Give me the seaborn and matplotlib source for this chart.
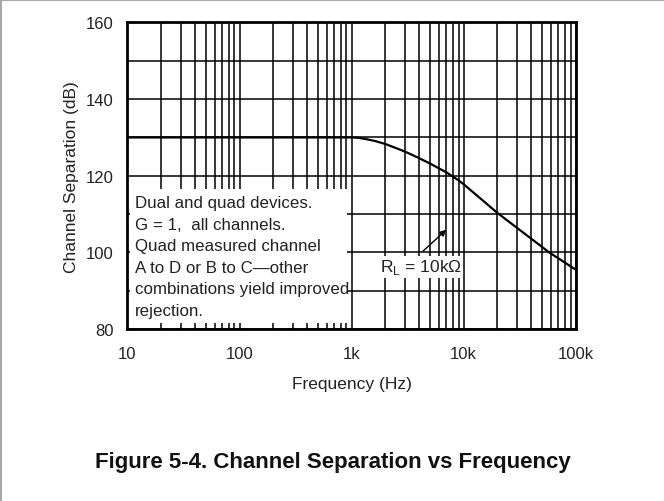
import pandas as pd
import seaborn as sns
import numpy as np

import matplotlib
matplotlib.use('Agg')
import matplotlib.pyplot as plt
from matplotlib.patches import Rectangle
from matplotlib.lines import Line2D
from matplotlib.ticker import LogLocator, FixedLocator, NullFormatter, FixedFormatter

# Data (R_L = 10k)
freq_hz = [10, 100, 1000, 1150, 1330, 1600, 2000, 3000, 4000, 5000, 7000, 8000, 9000,
           10000, 20000, 40000, 58000, 100000]
separation_db = [130, 130, 130, 129.9, 129.6, 129.1, 128.3, 126.3, 124.6, 123.2, 120.9, 119.8, 118.8,
                 117.8, 110.3, 103.6, 100.0, 95.5]

x_ticks = [10, 100, 1000, 10000, 100000]
x_tick_labels = ['10', '100', '1k', '10k', '100k']
y_ticks = [80, 100, 120, 140, 160]

note_lines = ['Dual and quad devices.',
              'G = 1,  all channels.',
              'Quad measured channel',
              'A to D or B to C\u2014other',
              'combinations yield improved',
              'rejection.']

df = pd.DataFrame({'freq': freq_hz, 'sep': separation_db})

sns.set_style('white')
plt.rcParams['font.family'] = ['Liberation Sans', 'DejaVu Sans']
plt.rcParams['mathtext.fontset'] = 'custom'
plt.rcParams['mathtext.rm'] = 'Liberation Sans'

fig = plt.figure(figsize=(6.64, 5.02), dpi=100)
ax = fig.add_axes([0.192, 0.3426, 0.675, 0.6106])

#Curve
sns.lineplot(x='freq', y='sep', data=df, color='black', lw=1.6, ax=ax, zorder=3)

ax.set_xscale('log')
ax.set_xlim(10, 100000)
ax.set_ylim(80, 160)

ax.xaxis.set_major_locator(FixedLocator(x_ticks))
ax.xaxis.set_major_formatter(FixedFormatter(x_tick_labels))
ax.xaxis.set_minor_locator(LogLocator(base=10, subs=np.arange(2, 10)))
ax.xaxis.set_minor_formatter(NullFormatter())
ax.yaxis.set_major_locator(FixedLocator(y_ticks))
ax.yaxis.set_minor_locator(FixedLocator([90, 110, 130, 150]))

ax.grid(True, which='both', color='black', lw=1.1)
ax.set_axisbelow(True)
ax.tick_params(which='both', length=0)
ax.tick_params(axis='y', pad=10, labelsize=12, colors='#222222')
ax.tick_params(axis='x', pad=12, labelsize=12, colors='#222222')

for s in ax.spines.values():
    s.set_color('black')
    s.set_linewidth(2.0)
    s.set_zorder(4)

ax.set_xlabel('Frequency (Hz)', fontsize=12.5, labelpad=11, color='#222222')
ax.set_ylabel('Channel Separation (dB)', fontsize=12.5, labelpad=5, color='#222222')

#White note box that hides the grid in the lower left
ax.add_patch(Rectangle((10.5, 81.6), 912 - 10.5, 116.5 - 81.6, facecolor='white',
                       edgecolor='none', zorder=2))
ax.text(11.7, 115.0, '\n'.join(note_lines), fontsize=12.2, va='top', ha='left',
        linespacing=1.55, color='#222222', zorder=5)

#Load label and arrow
ax.text(4150, 96.2, 'R$_\\mathregular{L}$ = 10k\u03a9', fontsize=12.5, ha='center', va='center',
        color='#222222', zorder=5,
        bbox=dict(facecolor='white', edgecolor='none', pad=1))
ax.annotate('', xy=(7300, 106.4), xytext=(4150, 99.8),
            arrowprops=dict(arrowstyle='-|>', color='black', lw=1.0, mutation_scale=9),
            zorder=5)

fig.text(0.502, 0.078, 'Figure 5-4. Channel Separation vs Frequency', fontsize=16,
         fontweight='bold', ha='center', va='center', color='#111111')

#Page frame
fig.add_artist(Line2D([0, 1], [0.998, 0.998], transform=fig.transFigure, color='#a8a8a8', lw=1.5))
fig.add_artist(Line2D([0.0015, 0.0015], [0, 1], transform=fig.transFigure, color='#a8a8a8', lw=1.5))

fig.savefig('out.png', dpi=100)
